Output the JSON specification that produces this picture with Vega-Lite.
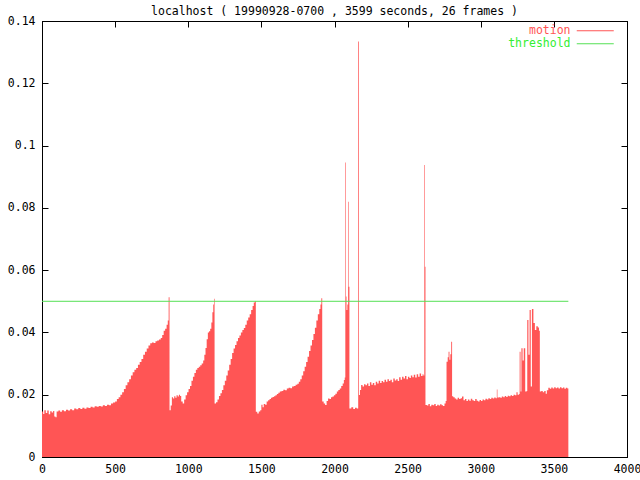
{
  "$schema": "https://vega.github.io/schema/vega-lite/v6.json",
  "width": 585,
  "height": 436,
  "autosize": {"type": "none"},
  "padding": {"left": 42, "top": 21, "right": 13, "bottom": 23},
  "background": "white",
  "title": {"text": "localhost ( 19990928-0700 , 3599 seconds, 26 frames )", "font": "DejaVu Sans Mono", "fontSize": 11.5, "fontWeight": "normal", "color": "black", "offset": 6, "dy": 8, "anchor": "middle"},
  "config": {
    "view": {"stroke": "black", "strokeWidth": 1},
    "axis": {"labelFont": "DejaVu Sans Mono", "labelFontSize": 11.5, "labelColor": "black", "tickColor": "black", "domainColor": "black", "tickSize": -6, "grid": false, "title": null, "labelFlush": false, "labelOverlap": false}
  },
  "datasets": {
    "motion": [
      {"t":0,"m":0.0146},{"t":8,"m":0.0138},{"t":16,"m":0.0150},{"t":26,"m":0.0141},{"t":36,"m":0.0149},{"t":46,"m":0.0137},{"t":56,"m":0.0147},{"t":66,"m":0.0143},{"t":76,"m":0.0148},{"t":84,"m":0.0130},{"t":92,"m":0.0128},{"t":100,"m":0.0146},{"t":112,"m":0.0149},{"t":124,"m":0.0145},{"t":136,"m":0.0150},{"t":150,"m":0.0147},{"t":164,"m":0.0152},{"t":178,"m":0.0149},{"t":192,"m":0.0153},{"t":206,"m":0.0150},{"t":220,"m":0.0156},{"t":234,"m":0.0153},{"t":248,"m":0.0157},{"t":262,"m":0.0154},{"t":276,"m":0.0158},{"t":290,"m":0.0155},{"t":304,"m":0.0159},{"t":318,"m":0.0157},{"t":332,"m":0.0161},{"t":346,"m":0.0159},{"t":360,"m":0.0163},{"t":374,"m":0.0161},{"t":388,"m":0.0164},{"t":402,"m":0.0162},{"t":416,"m":0.0166},{"t":430,"m":0.0164},{"t":444,"m":0.0168},{"t":458,"m":0.0166},{"t":472,"m":0.0172},{"t":486,"m":0.0175},{"t":500,"m":0.0178},{"t":512,"m":0.0186},{"t":524,"m":0.0192},{"t":536,"m":0.0200},{"t":548,"m":0.0208},{"t":560,"m":0.0218},{"t":572,"m":0.0230},{"t":584,"m":0.0240},{"t":596,"m":0.0250},{"t":608,"m":0.0262},{"t":620,"m":0.0272},{"t":632,"m":0.0280},{"t":644,"m":0.0286},{"t":656,"m":0.0296},{"t":668,"m":0.0305},{"t":680,"m":0.0315},{"t":692,"m":0.0328},{"t":704,"m":0.0338},{"t":716,"m":0.0348},{"t":728,"m":0.0358},{"t":740,"m":0.0365},{"t":752,"m":0.0368},{"t":764,"m":0.0366},{"t":776,"m":0.0372},{"t":788,"m":0.0374},{"t":800,"m":0.0377},{"t":812,"m":0.0382},{"t":822,"m":0.0392},{"t":832,"m":0.0405},{"t":842,"m":0.0412},{"t":852,"m":0.0425},{"t":860,"m":0.0438},{"t":866,"m":0.0513},{"t":872,"m":0.0150},{"t":880,"m":0.0165},{"t":888,"m":0.0192},
      {"t":896,"m":0.0188},{"t":904,"m":0.0195},{"t":912,"m":0.0190},{"t":920,"m":0.0198},{"t":928,"m":0.0194},{"t":936,"m":0.0200},{"t":944,"m":0.0196},{"t":952,"m":0.0178},{"t":962,"m":0.0172},{"t":972,"m":0.0185},{"t":982,"m":0.0198},{"t":992,"m":0.0208},{"t":1002,"m":0.0218},{"t":1012,"m":0.0228},{"t":1022,"m":0.0245},{"t":1032,"m":0.0258},{"t":1042,"m":0.0270},{"t":1052,"m":0.0280},{"t":1062,"m":0.0286},{"t":1072,"m":0.0290},{"t":1082,"m":0.0295},{"t":1092,"m":0.0300},{"t":1102,"m":0.0310},{"t":1110,"m":0.0328},{"t":1118,"m":0.0350},{"t":1126,"m":0.0378},{"t":1134,"m":0.0400},{"t":1142,"m":0.0404},{"t":1150,"m":0.0412},{"t":1158,"m":0.0432},{"t":1165,"m":0.0465},{"t":1171,"m":0.0490},{"t":1176,"m":0.0508},{"t":1180,"m":0.0172},
      {"t":1190,"m":0.0176},{"t":1200,"m":0.0185},{"t":1210,"m":0.0196},{"t":1220,"m":0.0205},{"t":1230,"m":0.0215},{"t":1240,"m":0.0230},{"t":1250,"m":0.0245},{"t":1260,"m":0.0262},{"t":1270,"m":0.0278},{"t":1280,"m":0.0296},{"t":1290,"m":0.0315},{"t":1300,"m":0.0334},{"t":1310,"m":0.0348},{"t":1320,"m":0.0360},{"t":1330,"m":0.0372},{"t":1340,"m":0.0382},{"t":1350,"m":0.0390},{"t":1360,"m":0.0400},{"t":1370,"m":0.0408},{"t":1380,"m":0.0414},{"t":1390,"m":0.0425},{"t":1400,"m":0.0438},{"t":1410,"m":0.0448},{"t":1420,"m":0.0458},{"t":1430,"m":0.0472},{"t":1440,"m":0.0485},{"t":1448,"m":0.0496},{"t":1456,"m":0.0500},{"t":1462,"m":0.0145},
      {"t":1472,"m":0.0140},{"t":1482,"m":0.0146},{"t":1492,"m":0.0150},{"t":1500,"m":0.0168},{"t":1508,"m":0.0160},{"t":1516,"m":0.0170},{"t":1526,"m":0.0168},{"t":1536,"m":0.0178},{"t":1546,"m":0.0182},{"t":1556,"m":0.0186},{"t":1566,"m":0.0190},{"t":1576,"m":0.0193},{"t":1586,"m":0.0195},{"t":1596,"m":0.0198},{"t":1606,"m":0.0202},{"t":1616,"m":0.0206},{"t":1626,"m":0.0210},{"t":1638,"m":0.0212},{"t":1650,"m":0.0216},{"t":1662,"m":0.0214},{"t":1674,"m":0.0220},{"t":1686,"m":0.0222},{"t":1698,"m":0.0221},{"t":1710,"m":0.0226},{"t":1722,"m":0.0228},{"t":1734,"m":0.0232},{"t":1746,"m":0.0235},{"t":1756,"m":0.0242},{"t":1766,"m":0.0250},{"t":1776,"m":0.0262},{"t":1786,"m":0.0275},{"t":1796,"m":0.0290},{"t":1806,"m":0.0305},{"t":1816,"m":0.0322},{"t":1826,"m":0.0340},{"t":1836,"m":0.0358},{"t":1846,"m":0.0376},{"t":1856,"m":0.0395},{"t":1866,"m":0.0415},{"t":1876,"m":0.0438},{"t":1886,"m":0.0458},{"t":1896,"m":0.0475},{"t":1904,"m":0.0490},{"t":1910,"m":0.0510},{"t":1916,"m":0.0178},
      {"t":1926,"m":0.0172},{"t":1936,"m":0.0167},{"t":1946,"m":0.0180},{"t":1956,"m":0.0188},{"t":1966,"m":0.0186},{"t":1976,"m":0.0192},{"t":1986,"m":0.0194},{"t":1996,"m":0.0198},{"t":2006,"m":0.0203},{"t":2016,"m":0.0210},{"t":2026,"m":0.0215},{"t":2036,"m":0.0220},{"t":2046,"m":0.0228},{"t":2056,"m":0.0236},{"t":2064,"m":0.0247},{"t":2070,"m":0.0255},{"t":2074,"m":0.0946},{"t":2078,"m":0.0515},{"t":2082,"m":0.0472},{"t":2088,"m":0.0490},{"t":2093,"m":0.0820},{"t":2097,"m":0.0547},{"t":2102,"m":0.0156},{"t":2115,"m":0.0160},{"t":2128,"m":0.0154},{"t":2140,"m":0.0158},{"t":2152,"m":0.0156},{"t":2162,"m":0.1334},{"t":2167,"m":0.0199},{"t":2174,"m":0.0215},{"t":2182,"m":0.0231},{"t":2192,"m":0.0226},{"t":2202,"m":0.0234},{"t":2212,"m":0.0230},{"t":2222,"m":0.0236},{"t":2232,"m":0.0228},{"t":2242,"m":0.0240},{"t":2252,"m":0.0232},{"t":2262,"m":0.0238},{"t":2272,"m":0.0230},{"t":2282,"m":0.0242},{"t":2292,"m":0.0236},{"t":2302,"m":0.0245},{"t":2312,"m":0.0238},{"t":2322,"m":0.0244},{"t":2332,"m":0.0240},{"t":2342,"m":0.0248},{"t":2352,"m":0.0242},{"t":2362,"m":0.0250},{"t":2372,"m":0.0244},{"t":2382,"m":0.0248},{"t":2392,"m":0.0240},{"t":2402,"m":0.0252},{"t":2412,"m":0.0246},{"t":2422,"m":0.0250},{"t":2432,"m":0.0244},{"t":2442,"m":0.0256},{"t":2452,"m":0.0248},{"t":2462,"m":0.0258},{"t":2472,"m":0.0252},{"t":2482,"m":0.0260},{"t":2492,"m":0.0250},{"t":2502,"m":0.0258},{"t":2512,"m":0.0254},{"t":2522,"m":0.0262},{"t":2532,"m":0.0256},{"t":2542,"m":0.0264},{"t":2552,"m":0.0255},{"t":2562,"m":0.0266},{"t":2572,"m":0.0258},{"t":2582,"m":0.0268},{"t":2592,"m":0.0260},{"t":2602,"m":0.0266},{"t":2608,"m":0.0262},{"t":2614,"m":0.0938},{"t":2618,"m":0.0611},{"t":2622,"m":0.0167},
      {"t":2632,"m":0.0165},{"t":2642,"m":0.0170},{"t":2652,"m":0.0163},{"t":2662,"m":0.0168},{"t":2672,"m":0.0166},{"t":2682,"m":0.0170},{"t":2692,"m":0.0164},{"t":2702,"m":0.0168},{"t":2712,"m":0.0165},{"t":2722,"m":0.0169},{"t":2732,"m":0.0166},{"t":2742,"m":0.0164},{"t":2752,"m":0.0172},{"t":2760,"m":0.0180},{"t":2766,"m":0.0306},{"t":2774,"m":0.0320},{"t":2780,"m":0.0338},{"t":2786,"m":0.0312},{"t":2792,"m":0.0330},{"t":2798,"m":0.0370},{"t":2804,"m":0.0195},{"t":2812,"m":0.0192},{"t":2822,"m":0.0188},{"t":2832,"m":0.0185},{"t":2842,"m":0.0190},{"t":2852,"m":0.0186},{"t":2862,"m":0.0189},{"t":2872,"m":0.0194},{"t":2882,"m":0.0182},{"t":2892,"m":0.0186},{"t":2902,"m":0.0180},{"t":2912,"m":0.0185},{"t":2922,"m":0.0181},{"t":2932,"m":0.0187},{"t":2942,"m":0.0182},{"t":2952,"m":0.0180},{"t":2962,"m":0.0186},{"t":2972,"m":0.0181},{"t":2982,"m":0.0178},{"t":2992,"m":0.0183},{"t":3002,"m":0.0180},{"t":3012,"m":0.0185},{"t":3022,"m":0.0182},{"t":3032,"m":0.0187},{"t":3042,"m":0.0185},{"t":3052,"m":0.0189},{"t":3062,"m":0.0186},{"t":3072,"m":0.0190},{"t":3082,"m":0.0188},{"t":3092,"m":0.0191},{"t":3102,"m":0.0189},{"t":3110,"m":0.0217},{"t":3114,"m":0.0191},{"t":3124,"m":0.0192},{"t":3134,"m":0.0190},{"t":3144,"m":0.0194},{"t":3154,"m":0.0192},{"t":3164,"m":0.0196},{"t":3174,"m":0.0193},{"t":3184,"m":0.0197},{"t":3194,"m":0.0195},{"t":3204,"m":0.0198},{"t":3214,"m":0.0196},{"t":3224,"m":0.0200},{"t":3234,"m":0.0198},{"t":3244,"m":0.0208},{"t":3252,"m":0.0200},{"t":3262,"m":0.0202},{"t":3266,"m":0.0338},{"t":3272,"m":0.0210},{"t":3278,"m":0.0349},{"t":3286,"m":0.0310},{"t":3294,"m":0.0349},{"t":3304,"m":0.0210},{"t":3314,"m":0.0212},{"t":3318,"m":0.0440},{"t":3326,"m":0.0328},{"t":3334,"m":0.0472},{"t":3342,"m":0.0226},{"t":3350,"m":0.0475},{"t":3360,"m":0.0430},{"t":3370,"m":0.0408},{"t":3380,"m":0.0420},{"t":3390,"m":0.0416},{"t":3398,"m":0.0405},{"t":3404,"m":0.0210},{"t":3414,"m":0.0212},{"t":3424,"m":0.0208},{"t":3434,"m":0.0212},{"t":3444,"m":0.0203},{"t":3452,"m":0.0214},{"t":3462,"m":0.0222},{"t":3472,"m":0.0219},{"t":3482,"m":0.0223},{"t":3492,"m":0.0220},{"t":3502,"m":0.0224},{"t":3512,"m":0.0221},{"t":3522,"m":0.0223},{"t":3532,"m":0.0220},{"t":3542,"m":0.0224},{"t":3552,"m":0.0221},{"t":3562,"m":0.0223},{"t":3572,"m":0.0219},{"t":3582,"m":0.0222},{"t":3592,"m":0.0220},{"t":3599,"m":0.0224}
    ],
    "threshold": [{"t": 0, "v": 0.05}, {"t": 3599, "v": 0.05}]
  },
  "layer": [
    {
      "data": {"name": "motion"},
      "mark": {"type": "area", "interpolate": "step-after"},
      "encoding": {
        "x": {"field": "t", "type": "quantitative", "scale": {"domain": [0, 4000], "nice": false}, "axis": {"orient": "bottom", "values": [0,500,1000,1500,2000,2500,3000,3500,4000], "format": "d", "labelPadding": 12}},
        "y": {"field": "m", "type": "quantitative", "scale": {"domain": [0, 0.14], "nice": false}, "axis": {"orient": "left", "values": [0,0.02,0.04,0.06,0.08,0.1,0.12,0.14], "format": "~g", "labelPadding": 13}},
        "color": {
          "datum": "motion",
          "scale": {"domain": ["motion", "threshold"], "range": ["#ff5555", "#55e055"]},
          "legend": {
            "orient": "top-right", "offset": 4, "padding": 0, "title": null,
            "symbolType": "M-37,0H0M7,0", "symbolSize": 4, "symbolStrokeWidth": 1,
            "labelFont": "DejaVu Sans Mono", "labelFontSize": 11.5, "rowPadding": 0,
            "labelAlign": "right", "labelOffset": -49,
            "labelColor": {"expr": "datum.value === 'motion' ? '#ff5555' : '#33ee33'"}
          }
        }
      }
    },
    {
      "data": {"name": "threshold"},
      "mark": {"type": "line", "strokeWidth": 1},
      "encoding": {
        "x": {"field": "t", "type": "quantitative", "axis": {"orient": "top", "values": [0,500,1000,1500,2000,2500,3000,3500,4000], "labels": false}},
        "y": {"field": "v", "type": "quantitative", "axis": {"orient": "right", "values": [0,0.02,0.04,0.06,0.08,0.1,0.12,0.14], "labels": false}},
        "color": {"datum": "threshold"}
      }
    }
  ],
  "resolve": {"axis": {"x": "independent", "y": "independent"}}
}
